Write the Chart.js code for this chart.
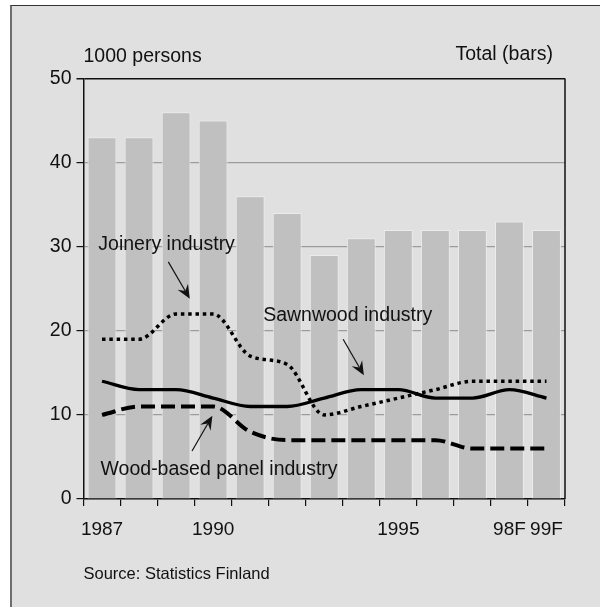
<!DOCTYPE html>
<html>
<head>
<meta charset="utf-8">
<script src="https://cdn.jsdelivr.net/npm/chart.js@4"></script>
<style>
  html, body { margin: 0; padding: 0; background: #fff; }
  #frame {
    position: absolute; left: 10px; top: 5px; width: 600px; height: 610px;
    background: #e0e0e0; border-top: 1px solid #333; border-left: 2px solid #6e6e6e;
  }
  #wrap { position: absolute; left: 0; top: 0; width: 600px; height: 607px; }
</style>
</head>
<body>
<div id="frame"></div>
<div id="wrap"><canvas id="chart"></canvas></div>
<script>
// employment in the wood products industry, 1000 persons
const years = ['1987', '1988', '1989', '1990', '1991', '1992', '1993', '1994', '1995', '1996', '1997', '1998', '1999'];
const tickLabels = ['1987', '', '', '1990', '', '', '', '', '1995', '', '', '98F', '99F'];
const total = [43, 43, 46, 45, 36, 34, 29, 31, 32, 32, 32, 33, 32];
const joinery = [19, 19, 22, 22, 17, 16, 10, 11, 12, 13, 14, 14, 14];
const sawnwood = [14, 13, 13, 12, 11, 11, 12, 13, 13, 12, 12, 13, 12];
const panel = [10, 11, 11, 11, 8, 7, 7, 7, 7, 7, 6, 6, 6];

const seriesNames = ['Joinery industry', 'Sawnwood industry', 'Wood-based panel industry'];
const unitText = '1000 persons';
const barsText = 'Total (bars)';
const sourceText = 'Source: Statistics Finland';

const FONT = '"Liberation Sans", Arial, Helvetica, sans-serif';
const INK = '#111';

// where each series name sits and where its arrow points, in [category index, value]
const callouts = [
  { text: seriesNames[0], at: [-0.1, 30.3], from: [1.79, 28.2], to: [2.37, 23.8] },
  { text: seriesNames[1], at: [4.35, 21.8], from: [6.51, 19.0], to: [7.07, 14.7] },
  { text: seriesNames[2], at: [-0.04, 3.5], from: [2.43, 5.7], to: [2.98, 9.9] }
];

function drawArrow(ctx, x1, y1, x2, y2) {
  const ang = Math.atan2(y2 - y1, x2 - x1);
  const len = 14, half = 6, notch = 9;
  ctx.lineWidth = 1.2;
  ctx.beginPath();
  ctx.moveTo(x1, y1);
  ctx.lineTo(x2 - Math.cos(ang) * notch, y2 - Math.sin(ang) * notch);
  ctx.stroke();
  ctx.save();
  ctx.translate(x2, y2);
  ctx.rotate(ang);
  ctx.beginPath();
  ctx.moveTo(0, 0);
  ctx.lineTo(-len, -half);
  ctx.lineTo(-notch, 0);
  ctx.lineTo(-len, half);
  ctx.closePath();
  ctx.fill();
  ctx.restore();
}

const decor = {
  id: 'decor',
  afterDatasetsDraw(chart) {
    const { ctx, chartArea: a, scales: { x, y } } = chart;
    ctx.save();
    ctx.strokeStyle = INK;
    ctx.fillStyle = INK;

    // right edge of the plot box
    ctx.lineWidth = 1.5;
    ctx.beginPath();
    ctx.moveTo(a.right, a.top);
    ctx.lineTo(a.right, a.bottom);
    ctx.stroke();

    ctx.textBaseline = 'middle';
    ctx.font = '19.5px ' + FONT;
    ctx.textAlign = 'left';
    ctx.fillText(unitText, a.left, a.top - 22);
    ctx.textAlign = 'right';
    ctx.fillText(barsText, a.right - 12, a.top - 24);

    ctx.textAlign = 'left';
    callouts.forEach(c => {
      ctx.fillText(c.text, x.getPixelForValue(c.at[0]), y.getPixelForValue(c.at[1]));
      drawArrow(ctx,
        x.getPixelForValue(c.from[0]), y.getPixelForValue(c.from[1]),
        x.getPixelForValue(c.to[0]), y.getPixelForValue(c.to[1]));
    });

    ctx.font = '16.5px ' + FONT;
    ctx.fillText(sourceText, a.left, a.bottom + 75);
    ctx.restore();
  }
};

const lineBase = {
  type: 'line',
  borderColor: '#000',
  pointRadius: 0,
  fill: false,
  cubicInterpolationMode: 'monotone',
  borderCapStyle: 'butt',
  order: 1
};

new Chart(document.getElementById('chart'), {
  type: 'bar',
  data: {
    labels: years,
    datasets: [
      Object.assign({}, lineBase, { label: seriesNames[0], data: joinery, borderWidth: 3.5, borderDash: [3.5, 3.8] }),
      Object.assign({}, lineBase, { label: seriesNames[1], data: sawnwood, borderWidth: 3.3 }),
      Object.assign({}, lineBase, { label: seriesNames[2], data: panel, borderWidth: 4, borderDash: [14, 6] }),
      {
        label: 'Total',
        data: total,
        backgroundColor: '#c0c0c0',
        borderColor: '#ececec',
        borderWidth: 1,
        barPercentage: 0.78,
        categoryPercentage: 1,
        order: 2
      }
    ]
  },
  options: {
    responsive: true,
    maintainAspectRatio: false,
    animation: false,
    layout: { padding: { left: 0, top: 78.5, right: 35, bottom: 68 } },
    plugins: { legend: { display: false }, tooltip: { enabled: false } },
    scales: {
      x: {
        afterFit: s => { s.height = 40; },
        grid: { offset: true, drawOnChartArea: false, drawTicks: true, tickLength: 7, tickColor: INK, lineWidth: 1.2 },
        border: { display: true, color: INK, width: 1.5 },
        ticks: {
          autoSkip: false, maxRotation: 0, padding: 12, color: INK,
          font: { family: FONT, size: 19 },
          callback: (v, i) => tickLabels[i]
        }
      },
      y: {
        min: 0, max: 50,
        afterFit: s => { s.width = 83.5; },
        grid: {
          color: c => (c.tick && c.tick.value === 50 ? INK : '#9c9c9c'),
          lineWidth: c => (c.tick && c.tick.value === 50 ? 1.5 : 1.2),
          tickColor: INK, tickLength: 7, drawTicks: true
        },
        border: { display: true, color: INK, width: 1.5 },
        ticks: { stepSize: 10, padding: 5, color: INK, font: { family: FONT, size: 19.5 } }
      }
    }
  },
  plugins: [decor]
});
</script>
</body>
</html>
